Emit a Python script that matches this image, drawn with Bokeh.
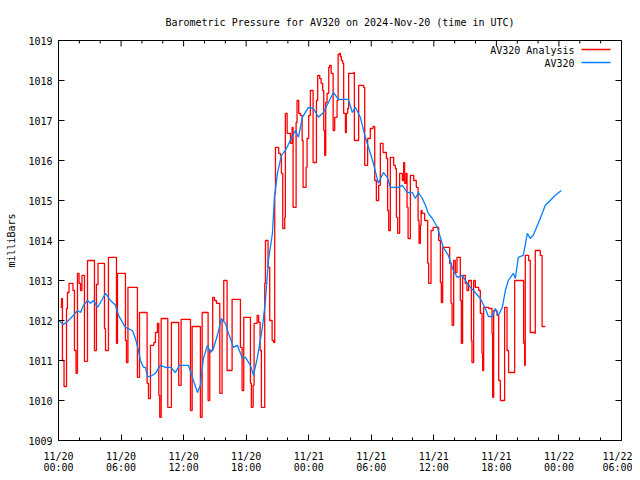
import math
from bokeh.plotting import figure
from bokeh.models import Range1d, FixedTicker, Label, BoxAnnotation
from bokeh.embed import file_html
from bokeh.resources import INLINE

FONT = "DejaVu Sans Mono"

# hours since 2024-11-20 00:00 UTC
tick_hours = [0, 6, 12, 18, 24, 30, 36, 42, 48, 54]
tick_labels = ["11/20\n00:00", "11/20\n06:00", "11/20\n12:00", "11/20\n18:00",
               "11/21\n00:00", "11/21\n06:00", "11/21\n12:00", "11/21\n18:00",
               "11/22\n00:00", "11/22\n06:00"]
minor_hours = [h for h in range(0, 55, 2) if h % 6 != 0]
y_ticks = [1009, 1010, 1011, 1012, 1013, 1014, 1015, 1016, 1017, 1018, 1019]

analysis_hours = [0.19, 0.29, 0.38, 0.53, 0.77, 0.86, 1.01, 1.39, 1.53, 1.68, 1.82, 1.97, 2.11, 2.25,
                  2.49, 2.78, 3.45, 3.64, 3.79, 4.41, 4.51, 4.79, 5.56, 5.66, 6.42, 6.52, 6.66, 7.57,
                  7.77, 8.5, 8.63, 8.82, 9.14, 9.3, 9.49, 9.62, 9.71, 9.85, 10.48, 10.83, 11.53, 11.76,
                  12.66, 12.82, 13.61, 13.78, 14.35, 14.51, 14.79, 14.96, 15.15, 15.47, 15.69, 15.85,
                  16.17, 16.65, 17.45, 17.61, 17.77, 18.41, 18.5, 18.67, 18.76, 19.05, 19.2, 19.34,
                  19.46, 19.78, 19.85, 20.1, 20.26, 20.49, 20.64, 20.74, 20.81, 21.12, 21.28, 21.38,
                  21.51, 21.7, 21.76, 21.93, 22.25, 22.41, 22.5, 22.79, 22.88, 23.04, 23.2, 23.37,
                  23.46, 23.75, 23.84, 24.0, 24.16, 24.42, 24.74, 24.86, 25.05, 25.19, 25.34, 25.44,
                  25.53, 25.63, 25.76, 25.92, 26.01, 26.15, 26.34, 26.49, 26.72, 26.82, 26.94, 27.04,
                  27.13, 27.26, 27.35, 27.52, 27.61, 27.74, 27.83, 28.31, 28.38, 28.79, 29.27, 29.37,
                  29.65, 29.91, 30.17, 30.33, 30.49, 30.71, 30.87, 31.13, 31.45, 31.57, 31.67, 31.83,
                  32.15, 32.31, 32.41, 32.53, 32.72, 32.98, 33.11, 33.2, 33.34, 33.43, 33.53, 33.75,
                  34.07, 34.32, 34.49, 34.58, 34.71, 34.78, 34.87, 35.12, 35.41, 35.5, 35.73, 35.93,
                  36.46, 36.63, 36.72, 36.85, 37.52, 37.65, 37.75, 37.9, 38.06, 38.22, 38.54, 38.64,
                  38.76, 39.02, 39.18, 39.34, 39.6, 39.66, 39.82, 39.98, 40.3, 40.46, 40.62, 40.68,
                  40.78, 41.26, 41.58, 41.64, 41.74, 42.06, 42.22, 42.38, 42.79, 43.02, 43.17, 43.75,
                  44.61, 44.71, 44.77, 45.09, 45.25, 45.67, 45.73, 46.21, 46.38, 46.69]
analysis_mb = [1012.33, 1012.55, 1011.0, 1010.35, 1012.3, 1012.7, 1012.93, 1012.75, 1011.25, 1010.68,
               1013.18, 1012.93, 1012.75, 1013.13, 1010.98, 1013.5, 1011.25, 1012.9, 1013.43, 1011.8,
               1011.25, 1013.58, 1011.43, 1013.18, 1011.5, 1010.95, 1012.83, 1010.58, 1012.2, 1010.43,
               1010.05, 1011.38, 1011.45, 1011.7, 1011.93, 1010.13, 1009.58, 1012.05, 1009.83, 1011.95,
               1010.38, 1012.03, 1009.75, 1011.85, 1009.58, 1012.2, 1010.0, 1011.25, 1012.58, 1012.5,
               1012.43, 1010.18, 1012.0, 1013.0, 1010.75, 1012.53, 1011.33, 1010.25, 1012.08, 1010.43,
               1009.83, 1010.38, 1011.93, 1012.13, 1011.95, 1011.25, 1009.83, 1012.93, 1014.0, 1013.33,
               1012.0, 1011.5, 1011.45, 1015.18, 1016.33, 1016.18, 1016.13, 1015.68, 1014.3, 1014.58,
               1017.18, 1016.68, 1016.43, 1016.83, 1014.83, 1016.95, 1017.5, 1017.18, 1017.13, 1016.5,
               1015.33, 1015.83, 1016.55, 1017.13, 1017.75, 1015.95, 1017.5, 1018.13, 1018.05, 1017.93,
               1017.75, 1016.75, 1016.13, 1017.45, 1017.68, 1018.33, 1018.38, 1018.18, 1016.75, 1017.08,
               1017.5, 1018.65, 1018.68, 1018.6, 1018.5, 1018.43, 1017.18, 1016.7, 1017.18, 1017.3,
               1018.18, 1018.2, 1016.5, 1017.88, 1017.83, 1015.88, 1016.55, 1016.8, 1016.85, 1015.5,
               1015.0, 1015.38, 1016.43, 1016.2, 1016.05, 1014.75, 1014.25, 1016.08, 1015.88, 1015.8,
               1014.58, 1014.18, 1015.68, 1015.5, 1015.95, 1015.43, 1015.68, 1014.83, 1014.05, 1015.63,
               1015.5, 1015.33, 1014.5, 1013.93, 1014.38, 1014.75, 1014.68, 1014.5, 1013.43, 1012.93,
               1014.25, 1014.33, 1014.0, 1012.95, 1012.45, 1013.83, 1013.43, 1012.43, 1011.88, 1013.5,
               1013.2, 1013.58, 1012.5, 1011.43, 1013.13, 1012.93, 1012.75, 1013.0, 1011.5, 1010.95,
               1013.0, 1012.83, 1012.75, 1012.18, 1011.18, 1010.75, 1012.33, 1012.3, 1011.68, 1010.08,
               1012.25, 1012.13, 1010.5, 1010.0, 1012.33, 1011.25, 1010.7, 1013.0, 1011.43, 1010.88,
               1013.63, 1013.5, 1011.7, 1011.68, 1013.75, 1013.63, 1011.85, 1011.85]

av320_hours = [0.0, 0.48, 0.96, 1.44, 1.82, 2.11, 2.4, 2.78, 3.07, 3.36, 3.74, 4.03, 4.51, 4.99, 5.47,
               5.75, 6.42, 7.09, 7.38, 7.67, 7.86, 8.15, 8.34, 8.53, 8.82, 9.3, 9.78, 10.26, 10.74,
               11.22, 11.6, 12.46, 12.94, 13.33, 13.61, 13.9, 14.29, 14.57, 14.86, 15.24, 15.63,
               16.01, 16.3, 16.78, 17.16, 17.64, 17.93, 18.41, 18.7, 19.08, 19.56, 19.85, 20.13,
               20.52, 20.71, 21.0, 21.38, 21.76, 22.24, 22.72, 23.01, 23.39, 23.97, 24.45, 24.93,
               25.41, 25.89, 26.37, 26.85, 27.8, 28.19, 28.48, 28.95, 29.43, 29.91, 30.2, 30.68,
               31.16, 31.54, 31.83, 32.6, 32.98, 33.46, 33.94, 34.23, 34.52, 34.9, 35.19, 35.47,
               35.86, 36.34, 36.62, 36.91, 37.39, 37.87, 38.25, 38.73, 39.02, 39.5, 39.98, 40.46,
               40.94, 41.23, 41.61, 41.9, 42.19, 42.57, 42.86, 43.14, 43.62, 43.82, 44.1, 44.58,
               44.97, 45.25, 45.54, 46.02, 46.4, 46.69, 47.17, 47.65, 48.23]
av320_mb = [1012.0, 1011.9, 1012.0, 1012.13, 1012.25, 1012.2, 1012.38, 1012.5, 1012.43, 1012.5,
            1012.33, 1012.45, 1012.68, 1012.5, 1012.38, 1012.13, 1011.83, 1011.75, 1011.55, 1011.25,
            1011.0, 1010.83, 1010.83, 1010.6, 1010.6, 1010.68, 1010.88, 1010.83, 1010.83, 1010.7,
            1010.88, 1010.88, 1010.5, 1010.2, 1010.38, 1011.05, 1011.38, 1011.2, 1011.3, 1011.63,
            1012.05, 1011.93, 1011.68, 1011.33, 1011.38, 1011.05, 1011.08, 1010.88, 1010.63, 1011.08,
            1011.83, 1012.5, 1013.5, 1014.18, 1015.08, 1015.68, 1016.13, 1016.25, 1016.5, 1016.75,
            1016.58, 1017.08, 1017.33, 1017.3, 1017.08, 1017.2, 1017.45, 1017.7, 1017.53, 1017.53,
            1017.2, 1017.33, 1017.08, 1016.58, 1016.18, 1015.93, 1015.43, 1015.7, 1015.58, 1015.33,
            1015.33, 1015.38, 1015.2, 1015.2, 1015.05, 1015.2, 1015.05, 1014.88, 1014.68, 1014.55,
            1014.33, 1014.08, 1013.83, 1013.63, 1013.25, 1013.08, 1013.13, 1013.0, 1012.83, 1012.7,
            1012.55, 1012.3, 1012.1, 1012.1, 1012.3, 1012.13, 1012.33, 1012.75, 1013.0, 1013.18,
            1013.05, 1013.58, 1013.63, 1014.18, 1014.05, 1014.13, 1014.43, 1014.68, 1014.88, 1015.0,
            1015.13, 1015.25]

X0, X1 = 0, 54
Y0, Y1 = 1009, 1019

p = figure(width=632, height=478, output_backend="svg", toolbar_location=None,
           x_range=Range1d(X0, X1), y_range=Range1d(Y0, Y1),
           min_border_left=58, min_border_right=11, min_border_top=40, min_border_bottom=38,
           title="Barometric Pressure for AV320 on 2024-Nov-20 (time in UTC)")
p.title.align = "center"
p.title.text_font = FONT
p.title.text_font_size = "10px"
p.title.text_font_style = "normal"
p.title.text_color = "black"
p.title.standoff = 25

p.xgrid.visible = False
p.ygrid.visible = False
p.outline_line_color = "black"
p.outline_line_width = 1
p.outline_line_alpha = 1
p.background_fill_color = "white"
p.border_fill_color = "white"

xticker = FixedTicker(ticks=tick_hours, minor_ticks=minor_hours)
yticker = FixedTicker(ticks=y_ticks, minor_ticks=[])

xa = p.xaxis[0]
xa.ticker = xticker
xa.major_label_overrides = {h: lab for h, lab in zip(tick_hours, tick_labels)}
xa.major_label_standoff = 10
xa.major_label_text_line_height = 1.0
ya = p.yaxis[0]
ya.ticker = yticker
ya.axis_label = "milliBars"
ya.axis_label_standoff = 8
ya.major_label_standoff = 6

for ax in (xa, ya):
    ax.major_label_text_font = FONT
    ax.major_label_text_font_size = "10px"
    ax.axis_label_text_font = FONT
    ax.axis_label_text_font_size = "10px"
    ax.axis_label_text_font_style = "normal"
    ax.axis_label_text_color = "black"
    ax.major_tick_in = 6
    ax.major_tick_out = 0
    ax.minor_tick_in = 3
    ax.minor_tick_out = 0
    ax.axis_line_color = "black"
    ax.major_tick_line_color = "black"
    ax.minor_tick_line_color = "black"
    ax.major_label_text_color = "black"

# mirrored ticks on top and right border (markers centred on the border, clipped to the frame)
p.scatter(tick_hours, [Y1] * len(tick_hours), marker="dash", angle=math.pi / 2, size=12,
          line_color="black", line_width=1)
p.scatter(minor_hours, [Y1] * len(minor_hours), marker="dash", angle=math.pi / 2, size=6,
          line_color="black", line_width=1)
p.scatter([X1] * len(y_ticks), y_ticks, marker="dash", size=12, line_color="black", line_width=1)

red = p.step(analysis_hours, analysis_mb, mode="after", line_color="#ff0000", line_width=1.3)
blue = p.line(av320_hours, av320_mb, line_color="#0080ff", line_width=1.3)

# gnuplot-style key: text right-aligned, line sample to its right
for txt, yy, col in (("AV320 Analysis", 390, "#ff0000"), ("AV320", 377, "#0080ff")):
    p.add_layout(Label(x=516, y=yy, x_units="screen", y_units="screen", text=txt,
                       text_align="right", text_baseline="middle", text_font=FONT,
                       text_font_size="10px", text_color="black"))
    p.add_layout(BoxAnnotation(left=523, right=552, bottom=yy + 0.3, top=yy + 1.7,
                               left_units="screen", right_units="screen",
                               bottom_units="screen", top_units="screen",
                               fill_color=col, fill_alpha=1, line_color=None))

open("out.html", "w").write(file_html(p, INLINE))
